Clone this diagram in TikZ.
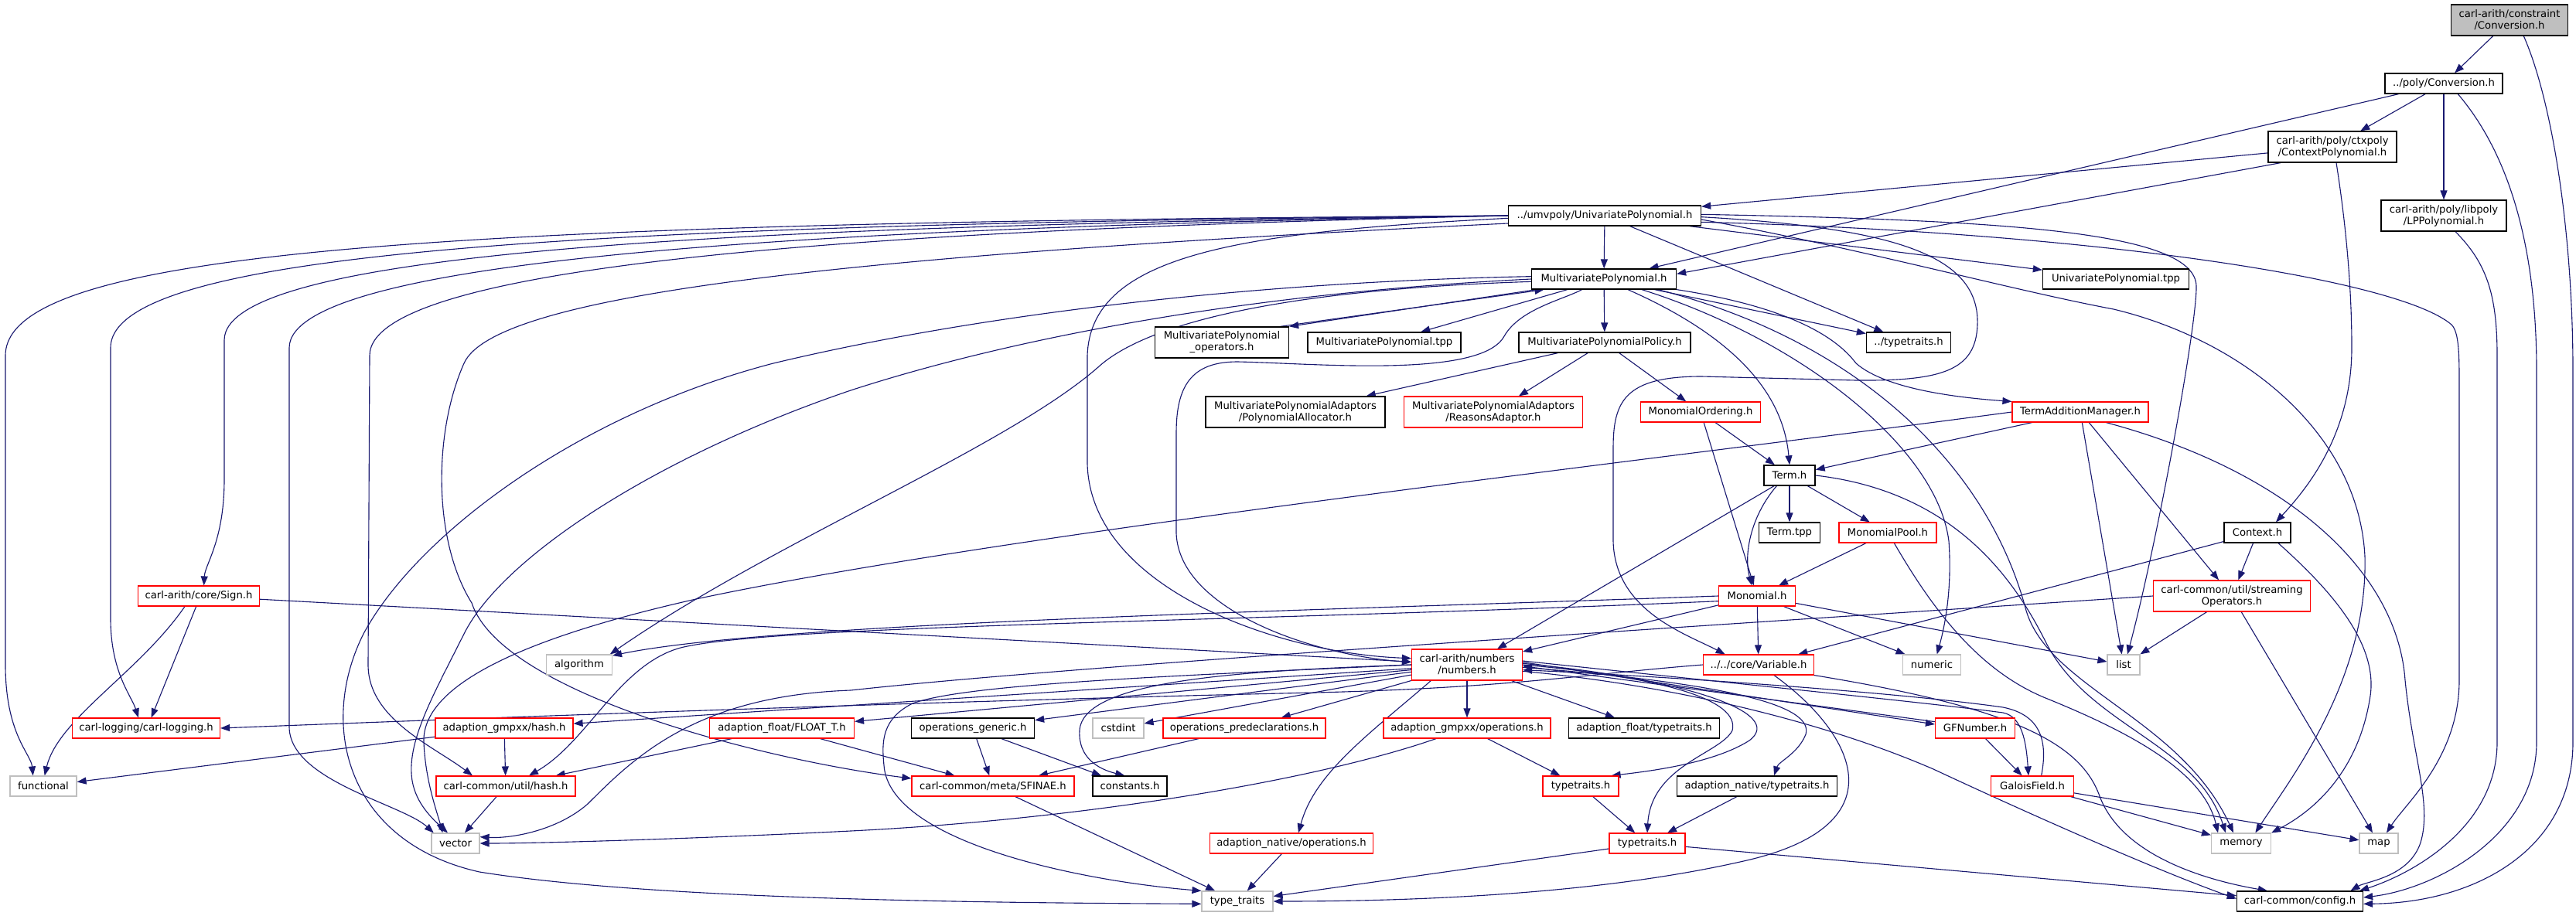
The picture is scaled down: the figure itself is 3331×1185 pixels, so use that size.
\documentclass[tikz,border=0pt]{standalone}
\usepackage{fontspec}
\setmainfont{DejaVu Sans}
\usetikzlibrary{arrows.meta,backgrounds}
\definecolor{edgec}{HTML}{191970}
\definecolor{grey75}{HTML}{BFBFBF}
\newcommand\nfnt{\fontsize{11.27pt}{12.8pt}\selectfont}
\tikzset{
  bw/.style={minimum width={#1*0.03cm}},
  bh/.style={minimum height={#1*0.03cm}},
  nbox/.style={draw, fill=white, inner sep=0pt, align=center, font=\nfnt, bh=26},
  blk/.style={nbox, draw=black, line width=1.1pt},
  rnd/.style={nbox, draw=red, line width=1pt},
  gnd/.style={nbox, draw=grey75, line width=1pt},
  lnk/.style={draw=edgec, line width=0.95pt, -{Triangle[length=0.36cm,width=0.27cm]}}
}
\begin{document}
\begin{tikzpicture}[x=0.03cm, y=-0.03cm]
\useasboundingbox (0,0) rectangle (3331,1185);
% ---------------- nodes
\node[blk,bw=151,bh=40,fill=grey75] (conv) at (3245,26) {carl-arith/constraint\\/Conversion.h};
\node[blk,bw=152] (pconv) at (3160,108) {../poly/Conversion.h};
\node[blk,bw=166,bh=40] (ctx) at (3016,190) {carl-arith/poly/ctxpoly\\/ContextPolynomial.h};
\node[blk,bw=162,bh=40] (lpp) at (3160,279) {carl-arith/poly/libpoly\\/LPPolynomial.h};
\node[blk,bw=249] (umv) at (2075,279) {../umvpoly/UnivariatePolynomial.h};
\node[blk,bw=187] (mp) at (2074,361) {MultivariatePolynomial.h};
\node[blk,bw=189] (umvtpp) at (2736,361) {UnivariatePolynomial.tpp};
\node[blk,bw=173,bh=40] (ops) at (1580,443) {MultivariatePolynomial\\\_operators.h};
\node[blk,bw=198] (mptpp) at (1790,443) {MultivariatePolynomial.tpp};
\node[blk,bw=222] (policy) at (2075,443) {MultivariatePolynomialPolicy.h};
\node[blk,bw=109] (ptt) at (2468,443) {../typetraits.h};
\node[blk,bw=232,bh=40] (alloc) at (1675,533) {MultivariatePolynomialAdaptors\\/PolynomialAllocator.h};
\node[rnd,bw=231,bh=40] (reasons) at (1931,533) {MultivariatePolynomialAdaptors\\/ReasonsAdaptor.h};
\node[rnd,bw=155] (mord) at (2199,533) {MonomialOrdering.h};
\node[rnd,bw=176] (tam) at (2690,533) {TermAdditionManager.h};
\node[blk,bw=66] (term) at (2314,615) {Term.h};
\node[blk,bw=79] (termtpp) at (2314,689) {Term.tpp};
\node[rnd,bw=126] (mpool) at (2441,689) {MonomialPool.h};
\node[blk,bw=86] (context) at (2919,689) {Context.h};
\node[rnd,bw=157] (sign) at (257,771) {carl-arith/core/Sign.h};
\node[rnd,bw=99] (monomial) at (2272,771) {Monomial.h};
\node[rnd,bw=203,bh=40] (stream) at (2886,771) {carl-common/util/streaming\\Operators.h};
\node[gnd,bw=85] (algorithm) at (749,860) {algorithm};
\node[rnd,bw=143,bh=40] (numbers) at (1897,860) {carl-arith/numbers\\/numbers.h};
\node[rnd,bw=143] (variable) at (2274,860) {../../core/Variable.h};
\node[gnd,bw=75] (numeric) at (2498,860) {numeric};
\node[gnd,bw=42] (list) at (2746,860) {list};
\node[rnd,bw=191] (logging) at (189,942) {carl-logging/carl-logging.h};
\node[rnd,bw=178] (ghash) at (652,942) {adaption\_gmpxx/hash.h};
\node[rnd,bw=187] (floatt) at (1011,942) {adaption\_float/FLOAT\_T.h};
\node[blk,bw=159] (opgen) at (1258,942) {operations\_generic.h};
\node[gnd,bw=66] (cstdint) at (1446,942) {cstdint};
\node[rnd,bw=210] (oppre) at (1609,942) {operations\_predeclarations.h};
\node[rnd,bw=216] (gops) at (1897,942) {adaption\_gmpxx/operations.h};
\node[blk,bw=195] (ftt) at (2126,942) {adaption\_float/typetraits.h};
\node[rnd,bw=103] (gfn) at (2554,942) {GFNumber.h};
\node[gnd,bw=86] (functional) at (56,1017) {functional};
\node[rnd,bw=180] (uhash) at (654,1017) {carl-common/util/hash.h};
\node[rnd,bw=210] (sfinae) at (1284,1017) {carl-common/meta/SFINAE.h};
\node[blk,bw=96] (constants) at (1461,1017) {constants.h};
\node[rnd,bw=98] (tt1) at (2044,1017) {typetraits.h};
\node[blk,bw=207] (ntt) at (2272,1017) {adaption\_native/typetraits.h};
\node[rnd,bw=107] (gf) at (2628,1017) {GaloisField.h};
\node[gnd,bw=62] (vector) at (589,1091) {vector};
\node[rnd,bw=211] (nops) at (1670,1091) {adaption\_native/operations.h};
\node[rnd,bw=98] (tt2) at (2130,1091) {typetraits.h};
\node[gnd,bw=77] (memory) at (2898,1091) {memory};
\node[gnd,bw=50] (map) at (3076,1091) {map};
\node[gnd,bw=92] (tyt) at (1600,1166) {type\_traits};
\node[blk,bw=163] (config) at (2974,1166) {carl-common/config.h};
% ---------------- edges
\begin{pgfonlayer}{background}
\fill[white] (0,0) rectangle (3331,1185);
% top
\draw[lnk] (conv) -- (pconv);
\draw[lnk] ([xshift=0.55cm]conv.south) .. controls (3300,130) and (3327,300) .. (3327,480) -- (3327,960) .. controls (3327,1100) and (3200,1168) .. ([yshift=-0.1cm]config.east);
\draw[lnk] (pconv) -- (mp);
\draw[lnk] (pconv) -- (ctx);
\draw[lnk] (pconv) -- (lpp);
\draw[lnk] ([xshift=0.55cm]pconv.south) .. controls (3245,200) and (3280,320) .. (3280,480) -- (3280,960) .. controls (3280,1080) and (3150,1150) .. ([yshift=0.15cm]config.east);
\draw[lnk] ([xshift=0.45cm]lpp.south) .. controls (3215,340) and (3229,380) .. (3229,460) -- (3229,960) .. controls (3229,1070) and (3120,1130) .. ([xshift=-0.15cm]config.north east);
% ctx
\draw[lnk] (ctx) -- (umv);
\draw[lnk] ([xshift=0.5cm]ctx.south west) -- ([yshift=0.2cm]mp.east);
\draw[lnk] ([xshift=0.15cm]ctx.south) .. controls (3035,300) and (3041,380) .. (3041,450) .. controls (3041,560) and (2985,630) .. ([xshift=0.72cm]context.north);
% umv
\draw[lnk] (umv) -- (mp);
\draw[lnk] (umv) -- (umvtpp);
\draw[lnk] (umv) -- (ptt);
\draw[lnk] ([yshift=-0.1cm]umv.west) .. controls (1600,300) and (1410,330) .. (1406,460) -- (1406,600) .. controls (1410,760) and (1650,845) .. ([yshift=0.25cm]numbers.west);
\draw[lnk] (umv.west) .. controls (600,288) and (7,320) .. (7,460) -- (7,860) .. controls (7,950) and (40,975) .. ([xshift=-0.4cm]functional.north);
\draw[lnk] (umv.west) .. controls (800,290) and (143,320) .. (143,450) -- (143,800) .. controls (143,870) and (170,900) .. ([xshift=-0.3cm]logging.north);
\draw[lnk] (umv.west) .. controls (1000,292) and (290,320) .. (290,440) -- (290,620) .. controls (290,700) and (265,730) .. ([xshift=0.2cm]sign.north);
\draw[lnk] (umv.west) .. controls (1100,294) and (374,330) .. (374,450) -- (374,940) .. controls (374,1010) and (520,1040) .. ([xshift=0.1cm]vector.north west);
\draw[lnk] (umv.west) .. controls (1200,296) and (478,335) .. (478,460) -- (476,860) .. controls (476,930) and (560,965) .. ([xshift=-1.29cm]uhash.north);
\draw[lnk] ([yshift=-0.3cm]umv.west) .. controls (1100,330) and (640,380) .. (600,470) .. controls (560,560) and (560,700) .. (610,780) .. controls (650,900) and (1000,985) .. ([yshift=0.3cm]sfinae.west);
\draw[lnk] ([yshift=0.05cm]umv.east) .. controls (2600,285) and (2838,300) .. (2840,370) .. controls (2841,420) and (2790,700) .. ([xshift=0.15cm]list.north);
\draw[lnk] ([yshift=-0.15cm]umv.east) .. controls (2400,320) and (2600,375) .. (2733,400) .. controls (2900,440) and (3050,560) .. (3058,720) .. controls (3062,880) and (2960,1010) .. ([xshift=0.55cm]memory.north);
\draw[lnk] ([yshift=-0.25cm]umv.east) .. controls (2700,300) and (3100,360) .. (3170,420) .. controls (3180,430) and (3180,460) .. (3180,500) -- (3180,880) .. controls (3180,980) and (3110,1040) .. ([xshift=0.3cm]map.north);
\draw[lnk] ([yshift=-0.05cm]umv.east) .. controls (2450,295) and (2560,330) .. (2557,420) .. controls (2555,480) and (2510,493) .. (2400,492) -- (2200,487) .. controls (2100,487) and (2086,520) .. (2086,580) -- (2086,700) .. controls (2088,790) and (2180,820) .. ([xshift=-1.3cm]variable.north);
% mp
\draw[lnk] ([xshift=0.2cm]mp.south west) -- (ops.north east);
\draw[lnk] ([xshift=-0.35cm]ops.north east) -- ([xshift=0.5cm]mp.south west);
\draw[lnk] (mp) -- (mptpp);
\draw[lnk] (mp) -- (policy);
\draw[lnk] (mp) -- (ptt);
\draw[lnk] (mp.south east) .. controls (2300,395) and (2370,430) .. (2400,470) .. controls (2440,505) and (2540,515) .. (tam.north west);
\draw[lnk] ([xshift=0.93cm]mp.south) .. controls (2230,430) and (2305,500) .. (term.north);
\draw[lnk] ([xshift=-0.85cm]mp.south) .. controls (2020,388) and (1965,400) .. (1945,435) .. controls (1915,490) and (1700,470) .. (1600,468) .. controls (1540,468) and (1521,500) .. (1521,560) -- (1521,690) .. controls (1525,790) and (1700,848) .. ([yshift=0.1cm]numbers.west);
\draw[lnk] ([yshift=0.1cm]mp.west) .. controls (1600,365) and (1250,410) .. (1000,470) .. controls (750,535) and (540,690) .. (470,820) .. controls (410,940) and (450,1090) .. (620,1128) .. controls (850,1165) and (1300,1168) .. ([yshift=-0.1cm]tyt.west);
\draw[lnk] (mp.west) .. controls (1600,380) and (1300,440) .. (1100,505) .. controls (850,590) and (650,720) .. (600,820) .. controls (560,900) and (525,960) .. (533,1010) .. controls (538,1040) and (560,1060) .. ([xshift=-0.3cm]vector.north);
\draw[lnk] ([yshift=-0.1cm]mp.west) .. controls (1650,375) and (1480,420) .. (1420,475) .. controls (1300,580) and (1000,700) .. ([xshift=-0.1cm]algorithm.north east);
\draw[lnk] ([xshift=1.47cm]mp.south) .. controls (2330,440) and (2505,580) .. (2520,700) .. controls (2525,770) and (2512,820) .. ([xshift=0.2cm]numeric.north);
\draw[lnk] ([xshift=2.1cm]mp.south) .. controls (2400,440) and (2570,600) .. (2620,790) .. controls (2650,890) and (2820,930) .. ([xshift=-0.3cm]memory.north);
% policy, ordering
\draw[lnk] (policy) -- (alloc);
\draw[lnk] (policy) -- (reasons);
\draw[lnk] (policy) -- (mord);
\draw[lnk] (mord) -- (term);
\draw[lnk] (mord) -- (monomial);
% term addition manager
\draw[lnk] (tam) -- (term);
\draw[lnk] (tam.west) .. controls (2100,600) and (1300,690) .. (900,775) .. controls (700,820) and (545,880) .. (548,960) .. controls (550,1010) and (565,1050) .. ([xshift=-0.5cm]vector.north);
\draw[lnk] (tam) -- (list);
\draw[lnk] (tam) -- (stream);
\draw[lnk] ([xshift=1cm]tam.south) .. controls (2960,610) and (3100,740) .. (3110,880) .. controls (3120,980) and (3145,1040) .. (3130,1090) .. controls (3115,1135) and (3060,1140) .. ([xshift=-0.5cm]config.north east);
% term
\draw[lnk] (term) -- (termtpp);
\draw[lnk] (term) -- (mpool);
\draw[lnk] ([xshift=-0.5cm]term.south) .. controls (2262,670) and (2255,720) .. ([xshift=-0.2cm]monomial.north);
\draw[lnk] ([xshift=-0.6cm]term.south) -- ([xshift=1.17cm]numbers.north);
\draw[lnk] (term.east) .. controls (2520,635) and (2600,740) .. (2645,830) .. controls (2700,940) and (2840,960) .. ([xshift=-0.6cm]memory.north);
% monomial pool
\draw[lnk] (mpool) -- (monomial);
\draw[lnk] ([xshift=0.25cm]mpool.south) .. controls (2500,790) and (2560,870) .. (2650,905) .. controls (2760,950) and (2850,1000) .. ([xshift=-0.9cm]memory.north);
% monomial
\draw[lnk] (monomial) -- (variable);
\draw[lnk] (monomial) -- (numeric);
\draw[lnk] (monomial) -- (list);
\draw[lnk] (monomial) -- (numbers);
\draw[lnk] (monomial.west) .. controls (1700,790) and (1000,805) .. ([yshift=-0.05cm]algorithm.north east);
\draw[lnk] ([yshift=-0.2cm]monomial.west) .. controls (1600,805) and (1000,808) .. (880,838) .. controls (800,860) and (760,960) .. ([xshift=0.9cm]uhash.north);
% streaming operators
\draw[lnk] (stream.west) .. controls (2200,810) and (1400,860) .. (1100,893) .. controls (900,900) and (820,980) .. (760,1040) .. controls (720,1075) and (660,1085) .. ([yshift=0.25cm]vector.east);
\draw[lnk] (stream) -- (list);
\draw[lnk] (stream) -- (map);
% context
\draw[lnk] (context) -- (variable);
\draw[lnk] (context) -- (stream);
\draw[lnk] ([xshift=-0.5cm]context.south east) .. controls (3010,760) and (3075,830) .. (3065,900) .. controls (3050,1000) and (2990,1050) .. (memory.north east);
% sign
\draw[lnk] ([xshift=-0.54cm]sign.south) .. controls (180,870) and (75,930) .. ([xshift=0.05cm]functional.north);
\draw[lnk] ([xshift=-0.1cm]sign.south) -- ([xshift=0.2cm]logging.north);
\draw[lnk] (sign) -- (numbers);
% numbers
\draw[lnk] (numbers) -- (ghash);
\draw[lnk] (numbers) -- (floatt);
\draw[lnk] (numbers) -- (opgen);
\draw[lnk] (numbers) -- (cstdint);
\draw[lnk] (numbers) -- (oppre);
\draw[lnk] (numbers) -- (gops);
\draw[lnk] (numbers) -- (ftt);
\draw[lnk] (numbers.west) .. controls (1600,868) and (1400,880) .. (1396,945) .. controls (1394,980) and (1420,995) .. ([xshift=-0.2cm]constants.north);
\draw[lnk] (numbers.west) .. controls (1500,875) and (1250,885) .. (1180,910) .. controls (1140,930) and (1140,960) .. (1143,990) .. controls (1150,1090) and (1400,1140) .. (tyt.north west);
\draw[lnk] ([xshift=-1.4cm]numbers.south) .. controls (1770,950) and (1700,1000) .. ([xshift=0.27cm]nops.north);
\draw[lnk] ([yshift=0.05cm]numbers.east) .. controls (2180,878) and (2310,922) .. (2262,958) .. controls (2215,988) and (2130,998) .. ([xshift=-0.3cm]tt1.north east);
\draw[lnk] (numbers.east) .. controls (2150,876) and (2250,905) .. (2240,945) .. controls (2225,975) and (2135,990) .. (tt2.north);
\draw[lnk] ([yshift=-0.1cm]numbers.east) .. controls (2250,885) and (2345,915) .. (2335,950) .. controls (2325,975) and (2300,985) .. ([xshift=0.66cm]ntt.north);
\draw[lnk] ([yshift=0.1cm]numbers.east) -- ([yshift=0.15cm]gfn.west);
\draw[lnk] ([yshift=0.25cm]gfn.west) -- ([yshift=-0.05cm]numbers.east);
\draw[lnk] ([yshift=0.15cm]numbers.east) .. controls (2300,890) and (2500,910) .. (2590,922) .. controls (2615,927) and (2620,960) .. ([xshift=-0.15cm]gf.north);
\draw[lnk] ([xshift=0.35cm]gf.north) .. controls (2648,960) and (2640,925) .. (2590,915) .. controls (2450,895) and (2150,875) .. ([yshift=-0.2cm]numbers.east);
\draw[lnk] ([yshift=-0.25cm]numbers.east) .. controls (2150,885) and (2350,930) .. (2500,995) .. controls (2650,1065) and (2800,1130) .. ([yshift=0.1cm]config.west);
% lower layers
\draw[lnk] (gops) -- (tt1);
\draw[lnk] ([xshift=-1.2cm]gops.south) .. controls (1700,1010) and (1400,1060) .. (1100,1075) .. controls (900,1085) and (700,1091) .. (vector.east);
\draw[lnk] (tt1) -- (tt2);
\draw[lnk] (ntt) -- (tt2);
\draw[lnk] (tt2) -- (tyt);
\draw[lnk] (tt2) -- (config);
\draw[lnk] (sfinae) -- (tyt);
\draw[lnk] (nops) -- (tyt);
\draw[lnk] (opgen) -- (sfinae);
\draw[lnk] (opgen) -- (constants);
\draw[lnk] (oppre) -- (sfinae);
\draw[lnk] (floatt) -- (uhash);
\draw[lnk] (floatt) -- (sfinae);
\draw[lnk] (ghash) -- (functional);
\draw[lnk] (ghash) -- (uhash);
\draw[lnk] (uhash) -- (vector);
\draw[lnk] (gfn) -- (gf);
\draw[lnk] (gf) -- (memory);
\draw[lnk] (gf) -- (map);
% variable
\draw[lnk] ([xshift=0.6cm]variable.south) .. controls (2400,950) and (2460,1070) .. (2250,1115) .. controls (2050,1160) and (1800,1166) .. (tyt.east);
\draw[lnk] (variable.south east) .. controls (2600,915) and (2690,960) .. (2715,1030) .. controls (2745,1110) and (2860,1140) .. ([xshift=1.2cm]config.north west);
\draw[lnk] (variable.west) .. controls (2050,872) and (1950,890) .. (1700,896) .. controls (1300,905) and (800,922) .. (logging.east);
\end{pgfonlayer}
\end{tikzpicture}
\end{document}
